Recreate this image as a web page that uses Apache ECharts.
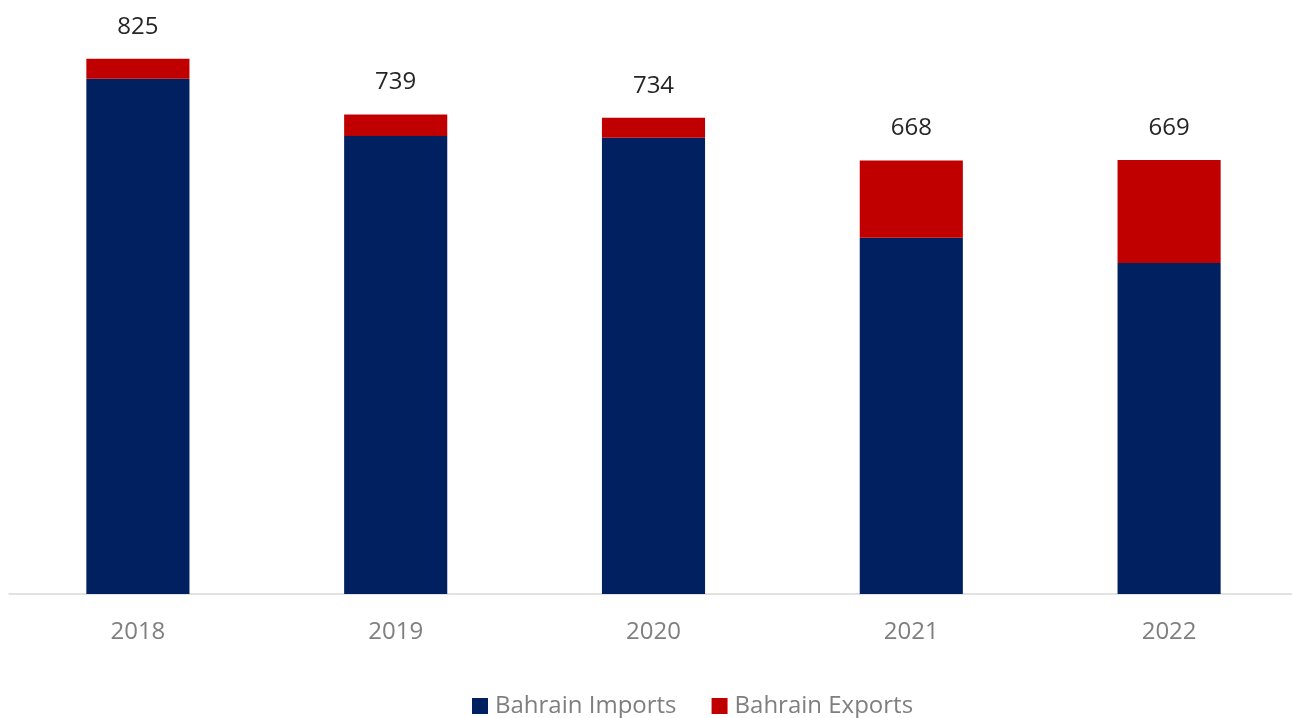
<!DOCTYPE html>
<html>
<head>
<meta charset="utf-8">
<script src="https://cdn.jsdelivr.net/npm/echarts@6/dist/echarts.min.js"></script>
<style>
  html, body { margin: 0; padding: 0; background: #fff; }
  #chart { width: 1292px; height: 718px; }
</style>
</head>
<body>
<div id="chart"></div>
<script>
// data
var years = ['2018', '2019', '2020', '2021', '2022'];
var imports = [794, 706, 703, 549, 510];
var exports = [31, 33, 31, 119, 159];
var totals = [825, 739, 734, 668, 669];

var chart = echarts.init(document.getElementById('chart'));

var option = {
  backgroundColor: '#ffffff',
  animation: false,
  textStyle: { fontFamily: 'Open Sans' },
  grid: { left: 9, right: -6, top: 10, bottom: 124, outerBoundsMode: 'none' },
  legend: {
    bottom: -5,
    left: 467,
    itemWidth: 16,
    itemHeight: 16,
    itemGap: 35,
    icon: 'rect',
    textStyle: { color: '#7f7f7f', fontSize: 24, fontFamily: 'Open Sans', padding: [0, 0, 0, 2] },
    data: ['Bahrain Imports', 'Bahrain Exports']
  },
  xAxis: {
    type: 'category',
    data: years,
    axisLine: { show: true, lineStyle: { color: '#d9d9d9', width: 1.5 } },
    axisTick: { show: false },
    axisLabel: { color: '#7f7f7f', fontSize: 24, margin: 26 }
  },
  yAxis: {
    type: 'value',
    min: 0,
    max: 900,
    show: false,
    splitLine: { show: false }
  },
  series: [
    {
      name: 'Bahrain Imports',
      type: 'bar',
      stack: 'trade',
      barWidth: '40%',
      itemStyle: { color: '#002060' },
      data: imports
    },
    {
      name: 'Bahrain Exports',
      type: 'bar',
      stack: 'trade',
      barWidth: '40%',
      itemStyle: { color: '#c00000' },
      label: {
        show: true,
        position: 'top',
        distance: 20,
        color: '#262626',
        fontSize: 24,
        formatter: function (p) {
          return totals[p.dataIndex];
        }
      },
      data: exports
    }
  ]
};

chart.setOption(option);
</script>
</body>
</html>
